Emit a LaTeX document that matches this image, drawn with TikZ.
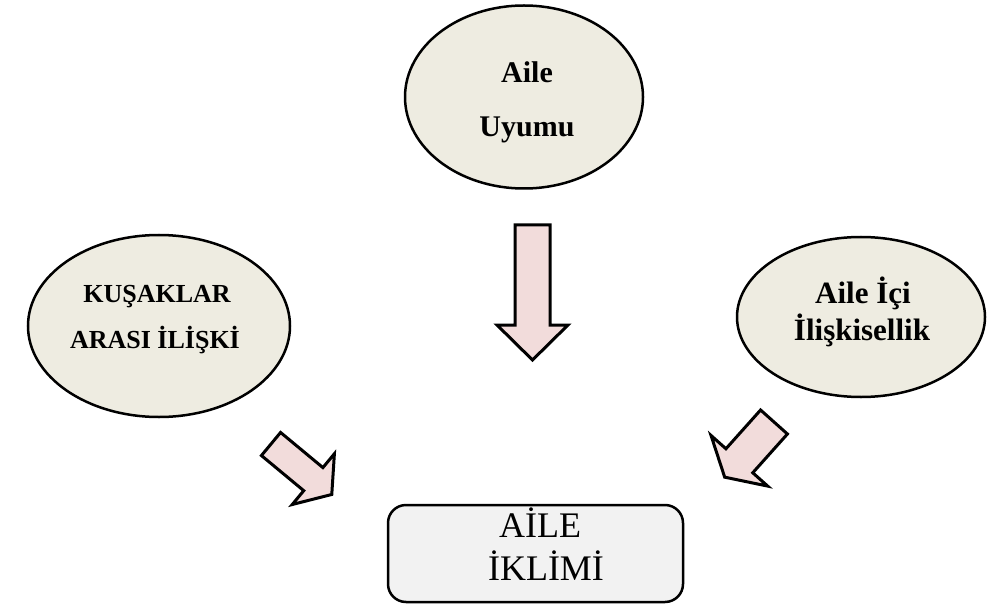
\documentclass[tikz,border=0pt]{standalone}
\usepackage{fontspec}
\setmainfont{Liberation Serif}
\usetikzlibrary{shapes.geometric}
\definecolor{ellfill}{HTML}{EEECE1}
\definecolor{boxfill}{HTML}{F2F2F2}
\definecolor{arrfill}{HTML}{F2DCDB}
\tikzset{
  oval/.style={ellipse, draw=black, line width=2.5pt, fill=ellfill, inner sep=0pt},
  climate/.style={rounded corners=18pt, draw=black, line width=2.5pt, fill=boxfill},
  blockarr/.style={draw=black, line width=3pt, fill=arrfill, line join=miter},
  lbl/.style={anchor=base, inner sep=0pt},
}
% #1 name, #2 back-mid, #3 angle, #4 shaft width, #5 shaft length, #6 head width, #7 head length
\newcommand{\blockarrow}[7]{%
  \begin{scope}[shift={#2}, rotate=#3]
    \draw[blockarr] (0,-#4/2) -- (#5,-#4/2) -- (#5,-#6/2) -- (#5+#7,0) -- (#5,#6/2) -- (#5,#4/2) -- (0,#4/2) -- cycle;
    \coordinate (#1) at (#5+#7,0);
  \end{scope}}
\begin{document}
\begin{tikzpicture}[x=1pt, y=-1pt]
\useasboundingbox (0,0) rectangle (987,612);
\fill[white] (0,0) rectangle (987,612);

% top ellipse
\node[oval, minimum width=238pt, minimum height=183pt] (uyum) at (524,97) {};
\node[lbl, font={\fontsize{30}{36}\selectfont\bfseries}] (uyum-1) at (527,83) {Aile};
\node[lbl, font={\fontsize{30}{36}\selectfont\bfseries}] (uyum-2) at (527,137) {Uyumu};

% left ellipse
\node[oval, minimum width=262pt, minimum height=182pt] (kusak) at (159,326) {};
\node[lbl, font={\fontsize{26}{32}\selectfont\bfseries}] (kusak-1) at (157,302) {KUŞAKLAR};
\node[lbl, font={\fontsize{26}{32}\selectfont\bfseries}] (kusak-2) at (155,348) {ARASI İLİŞKİ};

% right ellipse
\node[oval, minimum width=248pt, minimum height=160pt] (icil) at (861,317) {};
\node[lbl, font={\fontsize{31}{37}\selectfont\bfseries}] (icil-1) at (863,303) {Aile İçi};
\node[lbl, font={\fontsize{31}{37}\selectfont\bfseries}] (icil-2) at (862,340) {İlişkisellik};

% bottom box
\node[climate, minimum width=295pt, minimum height=97pt] (iklim) at (535.5,553.5) {};
\node[lbl, font={\fontsize{36}{43}\selectfont}] (iklim-1) at (540,537) {AİLE};
\node[lbl, font={\fontsize{36}{43}\selectfont}] (iklim-2) at (546,580) {İKLİMİ};

\blockarrow{a1}{(532.5,225)}{-90}{35}{100}{71}{35}
\blockarrow{a2}{(271,444)}{-39.7}{30}{55}{66}{24}
\blockarrow{a3}{(774,422)}{-131.8}{36}{52}{76}{22}
\end{tikzpicture}
\end{document}
